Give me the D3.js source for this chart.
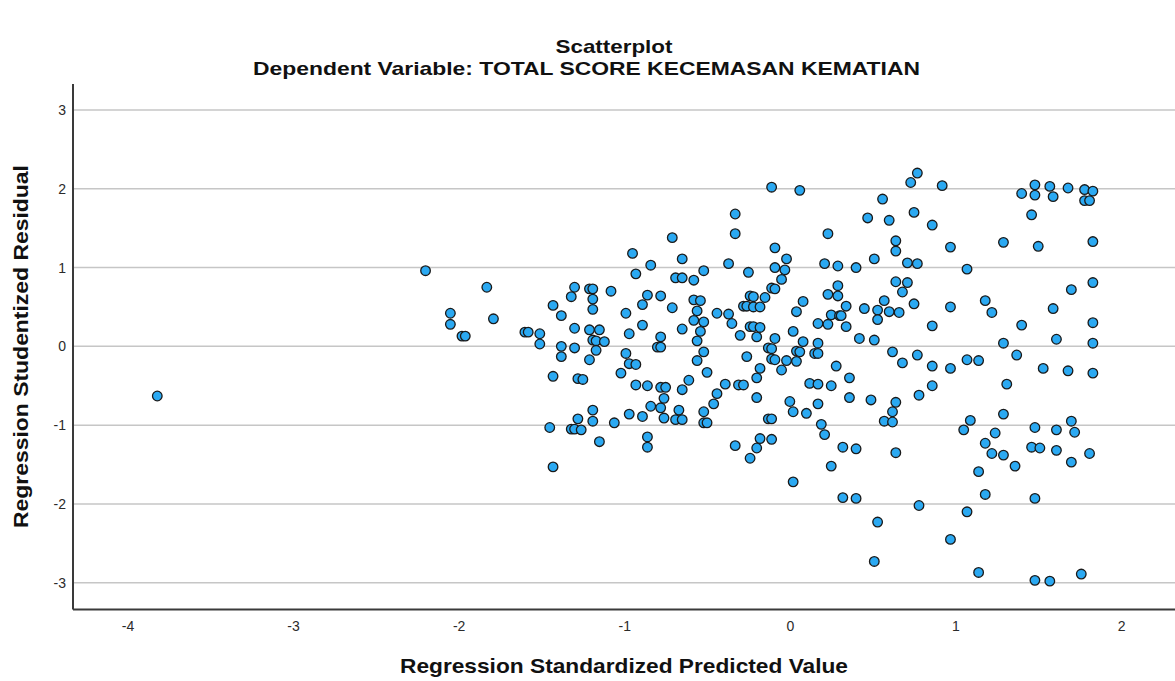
<!DOCTYPE html>
<html>
<head>
<meta charset="utf-8">
<script src="https://cdn.jsdelivr.net/npm/d3@7"></script>
<style>
  html, body { margin: 0; padding: 0; background: #fff; }
  svg { display: block; }
  text { font-family: "Liberation Sans", Arial, sans-serif; }
</style>
</head>
<body>
<svg id="chart" width="1175" height="681"></svg>
<script>
// ---- Data ----
const chartTitle = "Scatterplot";
const chartSubtitle = "Dependent Variable: TOTAL SCORE KECEMASAN KEMATIAN";
const xAxisTitle = "Regression Standardized Predicted Value";
const yAxisTitle = "Regression Studentized Residual";

const xTicks = [-4, -3, -2, -1, 0, 1, 2];
const yTicks = [-3, -2, -1, 0, 1, 2, 3];

const predictedValues = [
  -3.82,
  -2.20, -1.83, -2.05, -2.05, -1.98, -1.96, -1.79, -1.60, -1.58, -1.51, -1.51, -1.43, -1.38, -1.30, -1.32, -1.30, -1.38, -1.38, -1.30, -1.43, -1.28,
  -1.45, -1.43, -1.28, -1.32, -1.30, -1.26,
  -0.33, -0.33, -0.71, -0.95, -0.65, -0.84, -0.37, -0.93, -0.69, -0.65, -0.58, -0.52, -0.25, -1.21, -1.19, -1.19, -1.19, -1.08, -1.21, -1.15, -1.19, -1.17,
  -1.12, -1.17, -1.21, -1.25, -0.99, -0.97, -0.86, -0.89, -0.89, -0.78, -0.71, -0.78, -0.80, -0.78, -0.99, -0.97, -0.93, -1.02, -0.93, -0.86,
  -0.78, -0.75, -0.65, -0.61, -0.65, -0.58, -0.54, -0.56, -0.58, -0.52, -0.54, -0.56, -0.52, -0.56, -0.50, -0.44, -0.37, -0.35, -0.30, -0.28,
  -0.26, -0.24, -0.24, -0.26, -0.39, -0.31, -0.28, -0.44,
  -1.19, -1.19, -1.15, -1.06, -0.97, -0.89, -0.86, -0.86, -0.84, -0.78, -0.76, -0.76, -0.69, -0.65, -0.67, -0.52, -0.52, -0.50, -0.46, -0.33, -0.24,
  -0.11, 0.06, 0.77, 0.73, 0.56, 0.75, 0.47, 0.60, 0.23, 0.64, 0.64, -0.09, -0.02, -0.09, -0.03, -0.05, 0.21, 0.29, 0.40, 0.51,
  0.71, 0.77, -0.11, -0.09, -0.15, -0.22, -0.22, -0.18, 0.08, 0.04, 0.29, 0.23, 0.29, 0.34, 0.25, 0.30, 0.31, 0.17, 0.23, 0.34,
  0.45, 0.53, 0.53, 0.57, 0.60, 0.66, 0.64, 0.71, 0.68, 0.75, 0.42, 0.51, 0.02, -0.09, -0.22, -0.18, -0.20, 0.08, -0.13, -0.11,
  0.04, 0.06, 0.15, 0.17, 0.17, -0.11, -0.09, -0.02, 0.04, -0.18, -0.05, -0.20, 0.28, 0.36, 0.62, 0.68, 0.77, 0.12, 0.17, 0.25,
  -0.20, 0.00, 0.02, 0.10, 0.17, 0.36, 0.49, 0.64, 0.62, 0.57, 0.62, 0.78, -0.13, -0.11, 0.19, 0.21, -0.18, -0.11, -0.20, 0.32,
  0.40, 0.64, 0.25, 0.02, 0.32, 0.40, 0.78, 0.53, 0.51,
  0.92, 0.86, 0.97, 1.29, 1.50, 1.83, 1.48, 1.57, 1.68, 1.40, 1.48, 1.59, 1.78, 1.83, 1.78, 1.81, 1.46, 1.07, 1.83, 1.70,
  0.97, 1.18, 1.22, 1.59, 0.86, 1.40, 1.83, 1.29, 1.61, 1.83, 0.86, 0.97, 1.07, 1.14, 1.37, 1.31, 1.53, 1.68, 1.83, 0.86,
  1.29, 1.09, 1.05, 1.24, 1.18, 1.22, 1.29, 1.36, 1.14, 1.18, 1.48, 1.61, 1.70, 1.72, 1.46, 1.51, 1.61, 1.70, 1.81, 1.48,
  1.07, 0.97, 1.14, 1.48, 1.57, 1.76
];

const studentizedResiduals = [
  -0.63,
  0.96, 0.75, 0.42, 0.28, 0.13, 0.13, 0.35, 0.18, 0.18, 0.16, 0.03, 0.52, 0.39, 0.75, 0.63, 0.23, 0.00, -0.13, -0.02, -0.38, -0.41,
  -1.03, -1.53, -0.92, -1.05, -1.05, -1.06,
  1.68, 1.43, 1.38, 1.18, 1.11, 1.03, 1.05, 0.92, 0.87, 0.87, 0.84, 0.96, 0.94, 0.73, 0.73, 0.60, 0.47, 0.70, 0.21, 0.21, 0.08, 0.07,
  0.06, -0.05, -0.17, -0.42, 0.42, 0.16, 0.65, 0.53, 0.27, 0.64, 0.49, 0.12, -0.01, -0.01, -0.09, -0.22, -0.23, -0.34, -0.49, -0.50,
  -0.52, -0.52, -0.55, -0.43, 0.22, 0.59, 0.58, 0.45, 0.33, 0.31, 0.19, 0.07, -0.07, -0.18, -0.33, 0.42, 0.41, 0.29, 0.14, 0.51,
  0.51, 0.64, 0.25, -0.13, -0.48, -0.49, -0.49, -0.60,
  -0.81, -0.95, -1.21, -0.97, -0.86, -0.89, -1.15, -1.28, -0.76, -0.78, -0.66, -0.91, -0.93, -0.93, -0.81, -0.83, -0.97, -0.97, -0.73, -1.26, -1.42,
  2.02, 1.98, 2.20, 2.08, 1.87, 1.70, 1.63, 1.60, 1.43, 1.34, 1.21, 1.25, 1.11, 1.00, 0.97, 0.85, 1.05, 1.02, 1.00, 1.11,
  1.06, 1.05, 0.74, 0.73, 0.62, 0.63, 0.50, 0.50, 0.57, 0.44, 0.77, 0.66, 0.64, 0.51, 0.40, 0.39, 0.39, 0.29, 0.28, 0.25,
  0.48, 0.46, 0.34, 0.58, 0.44, 0.43, 0.82, 0.81, 0.69, 0.54, 0.10, 0.08, 0.19, 0.10, 0.25, 0.24, 0.12, 0.06, -0.02, -0.03,
  -0.06, -0.07, -0.09, -0.09, 0.04, -0.16, -0.17, -0.18, -0.19, -0.28, -0.30, -0.40, -0.25, -0.40, -0.07, -0.21, -0.11, -0.47, -0.48, -0.50,
  -0.65, -0.70, -0.83, -0.85, -0.73, -0.65, -0.68, -0.71, -0.83, -0.95, -0.96, -0.62, -0.92, -0.92, -0.99, -1.12, -1.17, -1.18, -1.29, -1.28,
  -1.30, -1.35, -1.52, -1.72, -1.92, -1.93, -2.02, -2.23, -2.73,
  2.04, 1.54, 1.26, 1.32, 1.27, 1.33, 2.05, 2.03, 2.01, 1.94, 1.92, 1.90, 1.99, 1.97, 1.85, 1.85, 1.67, 0.98, 0.81, 0.72,
  0.50, 0.58, 0.43, 0.48, 0.26, 0.27, 0.30, 0.04, 0.09, 0.04, -0.25, -0.28, -0.17, -0.18, -0.11, -0.48, -0.28, -0.31, -0.34, -0.50,
  -0.86, -0.94, -1.06, -1.10, -1.23, -1.36, -1.38, -1.52, -1.59, -1.88, -1.03, -1.06, -0.95, -1.09, -1.28, -1.29, -1.32, -1.47, -1.36, -1.93,
  -2.10, -2.45, -2.87, -2.97, -2.98, -2.89
];

// ---- Layout ----
const W = 1175, H = 681;
const plot = { left: 73, right: 1175, top: 84, bottom: 609.5 };

const x = d3.scaleLinear().domain([-4.329, 2.326]).range([plot.left, plot.right]);
const y = d3.scaleLinear().domain([-3.34, 3.33]).range([plot.bottom, plot.top]);

const svg = d3.select("#chart");
svg.append("rect").attr("width", W).attr("height", H).attr("fill", "#ffffff");

// Gridlines (horizontal)
svg.append("g")
  .selectAll("line")
  .data(yTicks)
  .join("line")
  .attr("x1", plot.left)
  .attr("x2", plot.right)
  .attr("y1", d => y(d))
  .attr("y2", d => y(d))
  .attr("stroke", "#c6c6c6")
  .attr("stroke-width", 1.5);

// Axes via d3 axis generators (hyphen-minus labels as in the reference)
const plainFmt = d => String(d);
const xAxis = d3.axisBottom(x).tickValues(xTicks).tickSize(0).tickPadding(12).tickFormat(plainFmt);
const yAxis = d3.axisLeft(y).tickValues(yTicks).tickSize(0).tickPadding(7).tickFormat(plainFmt);

const gx = svg.append("g").attr("transform", `translate(0,${plot.bottom})`).call(xAxis);
const gy = svg.append("g").attr("transform", `translate(${plot.left},0)`).call(yAxis);

[gx, gy].forEach(g => {
  g.select(".domain").remove();
  g.selectAll("text")
    .attr("fill", "#2b2b2b")
    .style("font-family", "'Liberation Sans', Arial, sans-serif")
    .style("font-size", "14px");
});

// Points
svg.append("g")
  .selectAll("circle")
  .data(predictedValues.map((v, i) => [v, studentizedResiduals[i]]))
  .join("circle")
  .attr("cx", d => x(d[0]))
  .attr("cy", d => y(d[1]))
  .attr("r", 4.8)
  .attr("fill", "#2ba9f2")
  .attr("stroke", "#1a1a1a")
  .attr("stroke-width", 1.3);

// Axis lines
svg.append("line")
  .attr("x1", plot.left).attr("x2", plot.left)
  .attr("y1", plot.top).attr("y2", plot.bottom)
  .attr("stroke", "#3a3a3a").attr("stroke-width", 2);
svg.append("line")
  .attr("x1", plot.left).attr("x2", plot.right)
  .attr("y1", plot.bottom).attr("y2", plot.bottom)
  .attr("stroke", "#3a3a3a").attr("stroke-width", 2);

// Titles
function titleText(txt, xPos, yPos, size, len, transform) {
  const t = svg.append("text")
    .attr("text-anchor", "middle")
    .attr("font-weight", "bold")
    .attr("font-size", size)
    .attr("fill", "#111")
    .attr("textLength", len)
    .attr("lengthAdjust", "spacingAndGlyphs")
    .text(txt);
  if (transform) t.attr("transform", transform);
  else t.attr("x", xPos).attr("y", yPos);
  return t;
}

titleText(chartTitle, 614, 53, 19, 117);
titleText(chartSubtitle, 586.5, 75, 19, 667);
titleText(xAxisTitle, 624, 673, 21, 448);
titleText(yAxisTitle, 0, 0, 21, 363, "translate(28,346.5) rotate(-90)");
</script>
</body>
</html>
